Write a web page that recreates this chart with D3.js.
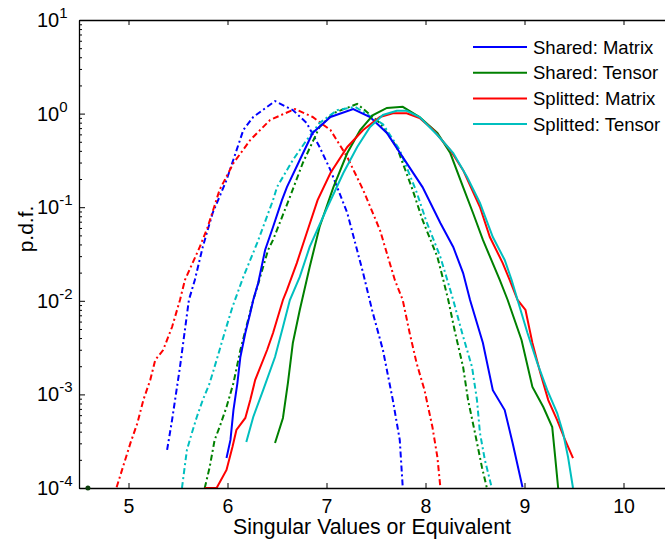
<!DOCTYPE html>
<html><head><meta charset="utf-8">
<script src="https://cdn.jsdelivr.net/npm/d3@7"></script>
<style>
body{margin:0;background:#fff}
text{font-family: Arial, "Liberation Sans", Helvetica, sans-serif; fill:#000}
</style>
</head><body>
<svg id="c" width="665" height="545"></svg>
<script>
// ---------- data ----------
const legendLabels = ["Shared: Matrix", "Shared: Tensor", "Splitted: Matrix", "Splitted: Tensor"];
const xTickValues = [5, 6, 7, 8, 9, 10];
const yTickExponents = [1, 0, -1, -2, -3, -4];

// solid curves
const sharedMatrixX = [5.99,6.03,6.06,6.10,6.13,6.18,6.23,6.26,6.31,6.38,6.46,6.55,6.60,6.73,6.86,7.04,7.27,7.44,7.61,7.77,7.97,8.15,8.28,8.38,8.45,8.58,8.68,8.80,8.88,8.98];
const sharedMatrixY = [2.09e-4,3.26e-4,6.8e-4,1.32e-3,2.51e-3,4.53e-3,7.41e-3,0.0102,0.0155,0.0349,0.0614,0.119,0.164,0.319,0.621,0.92,1.12,0.92,0.621,0.343,0.164,0.0678,0.0376,0.0198,0.0102,3.54e-3,1.11e-3,6.8e-4,3.03e-4,1.02e-4];

const sharedTensorX = [6.48,6.56,6.61,6.66,6.73,6.83,6.93,7.07,7.21,7.34,7.47,7.61,7.77,7.94,8.12,8.25,8.38,8.48,8.58,8.75,8.83,8.97,9.08,9.19,9.28,9.31,9.34];
const sharedTensorY = [3.03e-4,5.6e-4,1.32e-3,3.54e-3,7.98e-3,0.023,0.0614,0.164,0.379,0.668,0.966,1.15,1.18,0.92,0.621,0.379,0.164,0.0867,0.0447,0.0167,0.0102,3.81e-3,1.2e-3,7.33e-4,4.48e-4,2.14e-4,1.0e-4];

const splittedMatrixX = [5.77,5.89,5.99,6.05,6.09,6.18,6.23,6.28,6.40,6.46,6.56,6.60,6.70,6.80,6.91,7.04,7.21,7.37,7.54,7.67,7.81,7.94,8.08,8.25,8.38,8.55,8.65,8.78,8.85,8.93,9.01,9.08,9.16,9.24,9.33,9.41,9.49];
const splittedMatrixY = [1.0e-4,1.0e-4,1.56e-4,2.74e-4,4.17e-4,5.6e-4,8.7e-4,1.43e-3,2.98e-3,4.53e-3,0.0102,0.013,0.0253,0.053,0.119,0.232,0.44,0.668,0.92,1.01,1.01,0.898,0.668,0.408,0.249,0.1005,0.048,0.0253,0.0167,0.0102,7.98e-3,3.54e-3,1.69e-3,8.7e-4,5.32e-4,3.26e-4,2.09e-4];

const splittedTensorX = [6.19,6.26,6.36,6.48,6.56,6.63,6.73,6.83,7.01,7.17,7.31,7.44,7.57,7.71,7.81,7.94,8.12,8.28,8.42,8.55,8.68,8.80,8.87,8.93,9.03,9.13,9.23,9.33,9.39,9.44,9.49];
const splittedTensorY = [3.1e-4,5.74e-4,1.11e-3,2.51e-3,5.25e-3,0.0102,0.018,0.0376,0.1005,0.232,0.44,0.72,0.966,1.07,1.07,0.92,0.591,0.379,0.21,0.111,0.048,0.0273,0.0167,0.0102,4.53e-3,2.16e-3,1.11e-3,6.32e-4,3.87e-4,2.14e-4,1.0e-4];

// dash-dot curves
const sharedMatrixAltX = [5.39,5.44,5.52,5.61,5.67,5.75,5.85,5.99,6.16,6.26,6.48,6.66,6.80,6.93,7.04,7.21,7.37,7.46,7.57,7.67,7.74,7.77];
const sharedMatrixAltY = [2.55e-4,5.32e-4,1.96e-3,0.0102,0.0167,0.0376,0.0867,0.195,0.668,0.92,1.36,1.09,0.794,0.44,0.249,0.0867,0.0198,7.98e-3,2.98e-3,8.7e-4,3.26e-4,1.02e-4];

const sharedTensorAltX = [5.77,5.82,5.87,5.92,5.99,6.06,6.13,6.20,6.26,6.30,6.41,6.46,6.63,6.76,6.93,7.07,7.31,7.54,7.71,7.87,7.97,8.12,8.18,8.23,8.30,8.38,8.43,8.50,8.57,8.62];
const sharedTensorAltY = [1.0e-4,1.67e-4,3.26e-4,4.48e-4,7.33e-4,1.32e-3,2.98e-3,5.79e-3,0.0102,0.014,0.0349,0.0447,0.128,0.296,0.72,1.01,1.27,0.794,0.44,0.153,0.073,0.0294,0.0167,0.0102,4.53e-3,1.96e-3,8.7e-4,3.87e-4,1.67e-4,1.0e-4];

const splittedMatrixAltX = [4.88,5.02,5.09,5.15,5.22,5.27,5.35,5.44,5.52,5.57,5.72,5.80,5.92,6.06,6.23,6.43,6.68,6.86,7.04,7.21,7.37,7.54,7.69,7.77,7.84,7.91,7.99,8.07,8.12,8.15];
const splittedMatrixAltY = [1.02e-4,3.03e-4,4.94e-4,8.7e-4,1.43e-3,2.33e-3,2.98e-3,5.25e-3,0.0102,0.0167,0.0376,0.0614,0.153,0.296,0.522,0.855,1.12,0.92,0.668,0.343,0.153,0.057,0.0167,0.0102,4.53e-3,2.16e-3,1.11e-3,4.48e-4,2.14e-4,1.02e-4];

const splittedTensorAltX = [5.54,5.59,5.64,5.69,5.75,5.82,5.89,5.97,6.05,6.16,6.30,6.46,6.50,6.66,6.80,6.93,7.11,7.29,7.57,7.74,7.91,8.01,8.15,8.22,8.28,8.37,8.47,8.52,8.55,8.60,8.67];
const splittedTensorAltY = [1.0e-4,2.55e-4,3.87e-4,5.74e-4,8.7e-4,1.32e-3,2.33e-3,4.53e-3,8.59e-3,0.018,0.0415,0.119,0.164,0.319,0.522,0.794,1.09,1.18,0.77,0.408,0.145,0.07,0.0294,0.0167,0.0102,4.53e-3,1.96e-3,8.7e-4,3.87e-4,1.99e-4,1.0e-4];

// stray marker at the bottom axis
const strayPointX = [4.59];
const strayPointY = [1.0e-4];

// ---------- chart ----------
const svg = d3.select("#c");
const L = 79, T = 20, B = 488, R = 673;
const x = d3.scaleLinear().domain([4.5, 10.5]).range([L, R]);
const y = d3.scaleLog().domain([1e-4, 10]).range([B, T]);

svg.append("defs").append("clipPath").attr("id","clip")
  .append("rect").attr("x",L).attr("y",T).attr("width",R-L).attr("height",B-T+1);

const colors = ["#0000ff","#008000","#ff0000","#00bfbf"];
const solid = [
  [sharedMatrixX, sharedMatrixY],
  [sharedTensorX, sharedTensorY],
  [splittedMatrixX, splittedMatrixY],
  [splittedTensorX, splittedTensorY]
];
const alt = [
  [sharedMatrixAltX, sharedMatrixAltY],
  [sharedTensorAltX, sharedTensorAltY],
  [splittedMatrixAltX, splittedMatrixAltY],
  [splittedTensorAltX, splittedTensorAltY]
];
const line = d3.line().x(d => x(d[0])).y(d => y(d[1]));
const g = svg.append("g").attr("clip-path","url(#clip)");

alt.forEach((s,i) => {
  const pts = s[0].map((v,k) => [v, s[1][k]]);
  g.append("path").attr("d", line(pts)).attr("fill","none")
    .attr("stroke", colors[i]).attr("stroke-width", 2)
    .attr("stroke-dasharray","6,3,2,3");
});
solid.forEach((s,i) => {
  const pts = s[0].map((v,k) => [v, s[1][k]]);
  g.append("path").attr("d", line(pts)).attr("fill","none")
    .attr("stroke", colors[i]).attr("stroke-width", 2);
});

// axes
const xAxisB = d3.axisBottom(x).tickValues(xTickValues).tickSizeInner(-5).tickSizeOuter(0).tickPadding(11).tickFormat(d3.format("d"));
const gxb = svg.append("g").attr("transform",`translate(0,${B})`).call(xAxisB);
gxb.selectAll("text").style("font-size","19.5px").style("font-family","Arial, 'Liberation Sans', sans-serif").attr("fill","#000");

const xAxisT = d3.axisTop(x).tickValues(xTickValues).tickSizeInner(-5).tickSizeOuter(0).tickFormat("");
svg.append("g").attr("transform",`translate(0,${T})`).call(xAxisT);

const minorY = [];
for (let e = -4; e < 1; e++) for (let m = 2; m <= 9; m++) minorY.push(m * Math.pow(10, e));
const yAxisMinor = d3.axisLeft(y).tickValues(minorY).tickSizeInner(-3).tickSizeOuter(0).tickFormat("");
svg.append("g").attr("transform",`translate(${L},0)`).call(yAxisMinor).select(".domain").remove();

const yAxis = d3.axisLeft(y).tickValues(yTickExponents.map(e => Math.pow(10,e))).tickSizeInner(-6).tickSizeOuter(0).tickFormat("");
svg.append("g").attr("transform",`translate(${L},0)`).call(yAxis);

svg.selectAll(".domain").attr("stroke","#000").attr("stroke-width",1.3);
svg.selectAll(".tick line").attr("stroke","#000").attr("stroke-width",1);

yTickExponents.forEach(e => {
  const t = svg.append("text").attr("x", 37).attr("y", y(Math.pow(10,e)) + 7)
    .style("font-size","20px");
  t.append("tspan").text("10");
  t.append("tspan").attr("dy", -9).style("font-size","15px").text(e < 0 ? "-" + (-e) : String(e));
});

// stray marker
strayPointX.forEach((v,k) => {
  svg.append("circle").attr("cx", x(v)).attr("cy", y(strayPointY[k])).attr("r", 2.5).attr("fill","#0b3d0b");
});

// labels
svg.append("text").attr("x", 372).attr("y", 534).attr("text-anchor","middle")
  .style("font-size","21.3px").text("Singular Values or Equivalent");
svg.append("text").attr("transform","translate(33,229) rotate(-90)").attr("text-anchor","middle")
  .style("font-size","21px").text("p.d.f.");

// legend
const lg = svg.append("g");
legendLabels.forEach((lab,i) => {
  const yy = 47 + i*25.7;
  lg.append("line").attr("x1",473).attr("x2",527).attr("y1",yy).attr("y2",yy)
    .attr("stroke",colors[i]).attr("stroke-width",2);
  lg.append("text").attr("x",533).attr("y",yy+6.5).style("font-size","18.5px").text(lab);
});
</script>
</body></html>
